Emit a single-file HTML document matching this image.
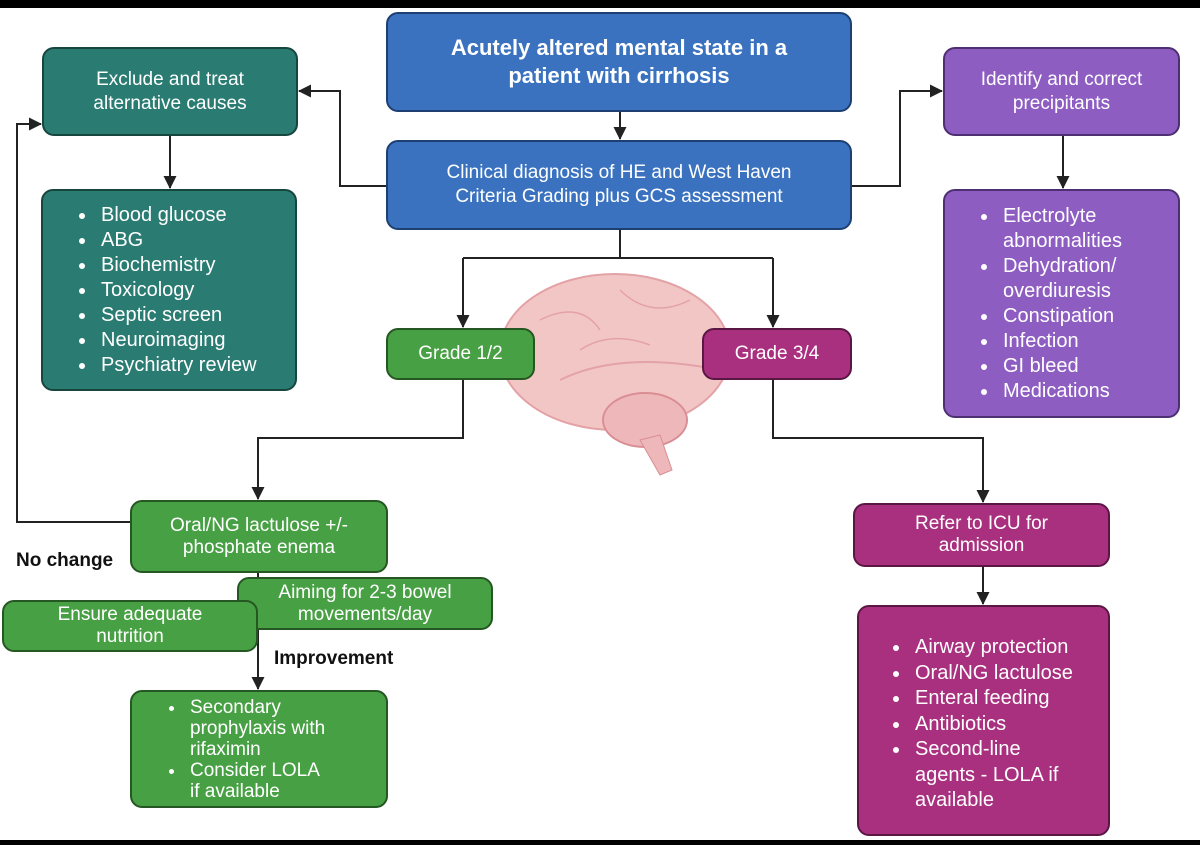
<!DOCTYPE html>
<html><head><meta charset="utf-8"><style>
body{margin:0;width:1200px;height:845px;background:#fff;position:relative;overflow:hidden;font-family:"Liberation Sans",sans-serif}
.b{position:absolute;box-sizing:border-box;border:2px solid #1f2f3a;border-radius:12px;color:#fff;font-size:19px;line-height:24px;display:flex;align-items:center;justify-content:center;text-align:center}
.bl{background:#3a72c0;border-color:#1d3f72}
.tl{background:#2a7c72;border-color:#17463f}
.pu{background:#8d5dc2;border-color:#4e2f72}
.gr{background:#48a044;border-color:#245722}
.mg{background:#a9307f;border-color:#5b1744}
ul{margin:0;padding:0 0 0 58px;text-align:left;list-style:disc;width:100%;box-sizing:border-box}
li{padding-left:4px}
.lab{position:absolute;font-weight:bold;font-size:19px;color:#111}
</style></head><body>
<div style="position:absolute;left:0;top:0;width:1200px;height:8px;background:#000"></div>
<div style="position:absolute;left:0;top:840px;width:1200px;height:5px;background:#000"></div>
<svg style="position:absolute;left:0;top:0" width="1200" height="845">
<defs><marker id="a" markerWidth="13" markerHeight="13" refX="12" refY="6.5" orient="auto" markerUnits="userSpaceOnUse"><path d="M0,0L13,6.5L0,13z" fill="#222"/></marker></defs>
<g fill="none" stroke="#222" stroke-width="2">
<path d="M620 112V139" marker-end="url(#a)"/>
<path d="M386 186H340V91H299" marker-end="url(#a)"/>
<path d="M852 186H900V91H942" marker-end="url(#a)"/>
<path d="M170 136V188" marker-end="url(#a)"/>
<path d="M1063 136V188" marker-end="url(#a)"/>
<path d="M620 230V258"/>
<path d="M463 258H773"/>
<path d="M463 258V327" marker-end="url(#a)"/>
<path d="M773 258V327" marker-end="url(#a)"/>
<path d="M463 380V438H258V499" marker-end="url(#a)"/>
<path d="M773 380V438H983V502" marker-end="url(#a)"/>
<path d="M983 567V604" marker-end="url(#a)"/>
<path d="M130 522H17V124H41" marker-end="url(#a)"/>
<path d="M258 573V689" marker-end="url(#a)"/>
</g>
<g>
<ellipse cx="615" cy="352" rx="115" ry="78" fill="#f3c6c6" stroke="#e3a2a6" stroke-width="2"/>
<ellipse cx="645" cy="420" rx="42" ry="27" fill="#eeb8ba" stroke="#d98e94" stroke-width="2"/>
<path d="M640 440 L660 475 L672 470 L660 435z" fill="#eeb8ba" stroke="#d98e94"/>
<path d="M560 380 Q620 350 720 370" fill="none" stroke="#e3a2a6" stroke-width="2"/>
<path d="M540 320 Q580 300 600 330 M620 290 Q650 320 690 300 M580 350 Q610 330 650 345" fill="none" stroke="#e3a2a6" stroke-width="1.5"/>
</g>
</svg>
<div class="b bl" style="left:386px;top:12px;width:466px;height:100px;font-weight:bold;font-size:22px;line-height:28px">Acutely altered mental state in a<br>patient with cirrhosis</div>
<div class="b bl" style="left:386px;top:140px;width:466px;height:90px">Clinical diagnosis of HE and West Haven<br>Criteria Grading plus GCS assessment</div>
<div class="b tl" style="left:42px;top:47px;width:256px;height:89px">Exclude and treat<br>alternative causes</div>
<div class="b tl" style="left:41px;top:189px;width:256px;height:202px;font-size:20px;line-height:25px"><ul style="padding-left:54px"><li>Blood glucose</li><li>ABG</li><li>Biochemistry</li><li>Toxicology</li><li>Septic screen</li><li>Neuroimaging</li><li>Psychiatry review</li></ul></div>
<div class="b pu" style="left:943px;top:47px;width:237px;height:89px">Identify and correct<br>precipitants</div>
<div class="b pu" style="left:943px;top:189px;width:237px;height:229px;line-height:25px;font-size:20px"><ul style="padding-left:54px"><li>Electrolyte abnormalities</li><li>Dehydration/ overdiuresis</li><li>Constipation</li><li>Infection</li><li>GI bleed</li><li>Medications</li></ul></div>
<div class="b gr" style="left:386px;top:328px;width:149px;height:52px">Grade 1/2</div>
<div class="b mg" style="left:702px;top:328px;width:150px;height:52px">Grade 3/4</div>
<div class="b gr" style="left:130px;top:500px;width:258px;height:73px;line-height:22px">Oral/NG lactulose +/-<br>phosphate enema</div>
<div class="b gr" style="left:237px;top:577px;width:256px;height:53px;line-height:22px">Aiming for 2-3 bowel<br>movements/day</div>
<div class="b gr" style="left:2px;top:600px;width:256px;height:52px;line-height:22px">Ensure adequate<br>nutrition</div>
<div class="b gr" style="left:130px;top:690px;width:258px;height:118px;line-height:21px;justify-content:flex-start"><ul style="padding-left:54px;width:auto"><li>Secondary<br>prophylaxis with<br>rifaximin</li><li>Consider LOLA<br>if available</li></ul></div>
<div class="b mg" style="left:853px;top:503px;width:257px;height:64px;line-height:22px">Refer to ICU for<br>admission</div>
<div class="b mg" style="left:857px;top:605px;width:253px;height:231px;line-height:25.5px;font-size:20px;align-items:flex-start;padding-top:28px;white-space:nowrap"><ul style="padding-left:52px;padding-right:0"><li>Airway protection</li><li>Oral/NG lactulose</li><li>Enteral feeding</li><li>Antibiotics</li><li>Second-line<br>agents - LOLA if<br>available</li></ul></div>
<div class="lab" style="left:16px;top:550px">No change</div>
<div class="lab" style="left:274px;top:648px">Improvement</div>
</body></html>
